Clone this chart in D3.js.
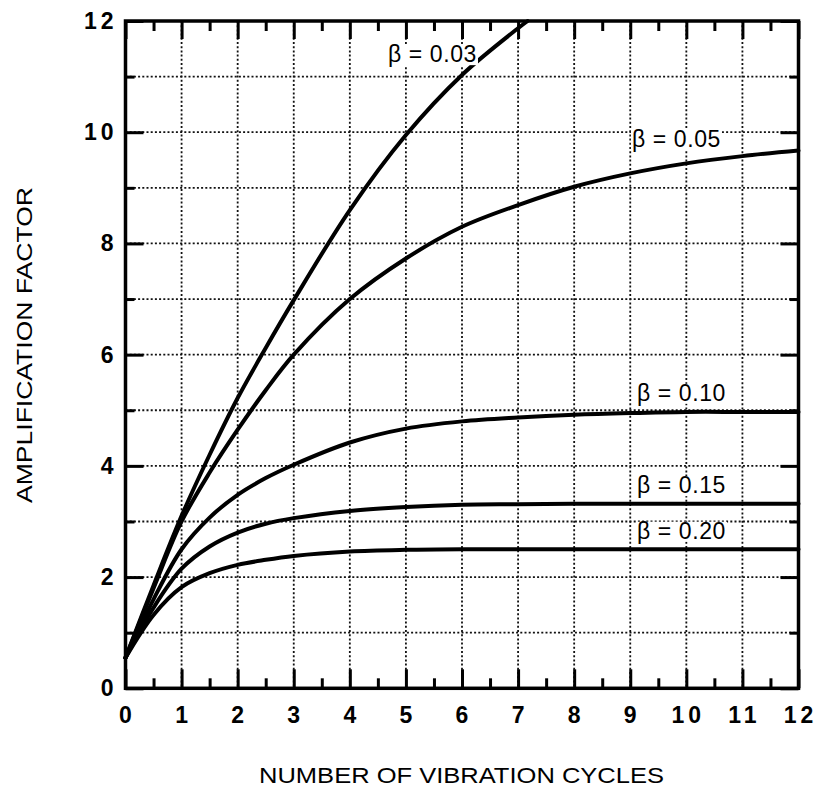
<!DOCTYPE html>
<html>
<head>
<meta charset="utf-8">
<script src="https://cdn.jsdelivr.net/npm/d3@7"></script>
<style>
  body { margin: 0; background: #fff; }
  svg { display: block; font-family: "Liberation Sans", Arial, Helvetica, sans-serif; }
</style>
</head>
<body>
<svg id="ch" width="820" height="791"></svg>
<script>
// Amplification factor vs number of vibration cycles

const cycles = [0, 0.5, 1, 1.5, 2, 2.5, 3, 4, 5, 6, 7, 8, 9, 10, 11, 12];
const cycles003 = [0, 0.5, 1, 1.5, 2, 2.5, 3, 4, 5, 6, 7, 7.17];

const amp003 = [0.55, 1.85, 3.1, 4.2, 5.22, 6.12, 6.98, 8.6, 9.95, 11.03, 11.87, 12.0];
const amp005 = [0.55, 1.8, 3.0, 3.88, 4.65, 5.36, 6.0, 7.0, 7.73, 8.3, 8.69, 9.02, 9.26, 9.44, 9.57, 9.67];
const amp010 = [0.55, 1.6, 2.5, 3.07, 3.48, 3.78, 4.02, 4.42, 4.67, 4.8, 4.87, 4.92, 4.95, 4.97, 4.97, 4.97];
const amp015 = [0.55, 1.45, 2.15, 2.55, 2.8, 2.96, 3.06, 3.19, 3.26, 3.3, 3.31, 3.32, 3.32, 3.32, 3.32, 3.32];
const amp020 = [0.55, 1.32, 1.82, 2.07, 2.22, 2.31, 2.38, 2.46, 2.49, 2.5, 2.5, 2.5, 2.5, 2.5, 2.5, 2.5];

const betaLabels = ["\u03b2 = 0.03", "\u03b2 = 0.05", "\u03b2 = 0.10", "\u03b2 = 0.15", "\u03b2 = 0.20"];
// label anchor (left, baseline) in data units
const labelX = [4.68, 9.03, 9.12, 9.12, 9.12];
const labelY = [11.26, 9.74, 5.17, 3.51, 2.69];

const xTicks = d3.range(0, 13, 1);
const xMinor = d3.range(0.5, 12, 1);
const yMajor = [0, 2, 4, 6, 8, 10, 12];
const yMinor = [1, 3, 5, 7, 9, 11];

const xTitle = "NUMBER OF VIBRATION CYCLES";
const yTitle = "AMPLIFICATION FACTOR";

/* Dimensions */
const W = 820, H = 791;
const m = { top: 21, right: 21.5, bottom: 102.7, left: 125.5 };

const svg = d3.select("#ch");

const x = d3.scaleLinear().domain([0, 12]).range([m.left, W - m.right]);
const y = d3.scaleLinear().domain([0, 12]).range([H - m.bottom, m.top]);

/* Grid */
const grid = svg.append("g")
  .attr("stroke", "#111")
  .attr("stroke-width", 1.8)
  .attr("stroke-dasharray", "2,2.2");

grid.selectAll("line.v")
  .data(d3.range(1, 12))
  .enter()
  .append("line")
  .attr("x1", (d) => x(d))
  .attr("x2", (d) => x(d))
  .attr("y1", y(12))
  .attr("y2", y(0));

grid.selectAll("line.h")
  .data(d3.range(1, 12))
  .enter()
  .append("line")
  .attr("x1", x(0))
  .attr("x2", x(12))
  .attr("y1", (d) => y(d))
  .attr("y2", (d) => y(d));

/* Axes ticks (inward) */
const tickStyle = (g) => {
  g.select(".domain").remove();
  g.selectAll(".tick line").attr("stroke", "#000").attr("stroke-width", 3);
};

const addAxis = (axis, tx, ty, values, size) => {
  svg.append("g")
    .attr("transform", `translate(${tx},${ty})`)
    .call(axis.tickValues(values).tickSizeInner(-size).tickSizeOuter(0).tickFormat(""))
    .call(tickStyle);
};

addAxis(d3.axisBottom(x), 0, y(0), xTicks, 19);
addAxis(d3.axisBottom(x), 0, y(0), xMinor, 10);
addAxis(d3.axisTop(x), 0, y(12), xTicks, 18);
addAxis(d3.axisTop(x), 0, y(12), xMinor, 10);
addAxis(d3.axisLeft(y), x(0), 0, yMajor, 18);
addAxis(d3.axisLeft(y), x(0), 0, yMinor, 9);
addAxis(d3.axisRight(y), x(12), 0, yMajor, 18);
addAxis(d3.axisRight(y), x(12), 0, yMinor, 9);

/* Tick labels */
const sp = 4;
svg.append("g")
  .selectAll("text")
  .data(xTicks)
  .enter()
  .append("text")
  .attr("x", (d) => x(d) + (d >= 10 ? sp / 2 : 0))
  .attr("y", y(0) + 35)
  .attr("text-anchor", "middle")
  .attr("font-size", 23)
  .attr("font-weight", "bold")
  .attr("letter-spacing", (d) => (d >= 10 ? sp : 0))
  .text((d) => d);

svg.append("g")
  .selectAll("text")
  .data(yMajor)
  .enter()
  .append("text")
  .attr("x", (d) => x(0) - 12 + (d >= 10 ? sp : 0))
  .attr("y", (d) => y(d) + 8)
  .attr("text-anchor", "end")
  .attr("font-size", 23)
  .attr("font-weight", "bold")
  .attr("letter-spacing", (d) => (d >= 10 ? sp : 0))
  .text((d) => d);

/* Curves */
const line = d3.line()
  .x((d) => x(d[0]))
  .y((d) => y(d[1]))
  .curve(d3.curveCatmullRom.alpha(0.5));

const allSeries = [
  d3.zip(cycles003, amp003),
  d3.zip(cycles, amp005),
  d3.zip(cycles, amp010),
  d3.zip(cycles, amp015),
  d3.zip(cycles, amp020)
];

svg.append("g")
  .selectAll("path")
  .data(allSeries)
  .enter()
  .append("path")
  .attr("d", line)
  .attr("fill", "none")
  .attr("stroke", "#000")
  .attr("stroke-width", 4)
  .attr("stroke-linecap", "round");

/* Curve labels (white backing) */
const lab = svg.append("g");
betaLabels.forEach((t, i) => {
  const g = lab.append("g");
  const rect = g.append("rect").attr("fill", "#fff");
  const txt = g.append("text")
    .attr("x", x(labelX[i]))
    .attr("y", y(labelY[i]))
    .attr("font-size", 23)
    .attr("letter-spacing", 0.6)
    .text(t);
  const bb = txt.node().getBBox();
  rect.attr("x", bb.x - 1).attr("y", bb.y + 4).attr("width", bb.width + 2).attr("height", bb.height - 6);
});

/* Frame */
svg.append("rect")
  .attr("x", x(0))
  .attr("y", y(12))
  .attr("width", x(12) - x(0))
  .attr("height", y(0) - y(12))
  .attr("fill", "none")
  .attr("stroke", "#000")
  .attr("stroke-width", 3.5);

/* Titles */
svg.append("text")
  .attr("x", 461.5)
  .attr("y", 782.5)
  .attr("text-anchor", "middle")
  .attr("font-size", 22)
  .attr("textLength", 405)
  .attr("lengthAdjust", "spacingAndGlyphs")
  .text(xTitle);

svg.append("text")
  .attr("transform", "translate(32,345) rotate(-90)")
  .attr("text-anchor", "middle")
  .attr("font-size", 22)
  .attr("textLength", 316)
  .attr("lengthAdjust", "spacingAndGlyphs")
  .text(yTitle);
</script>
</body>
</html>
